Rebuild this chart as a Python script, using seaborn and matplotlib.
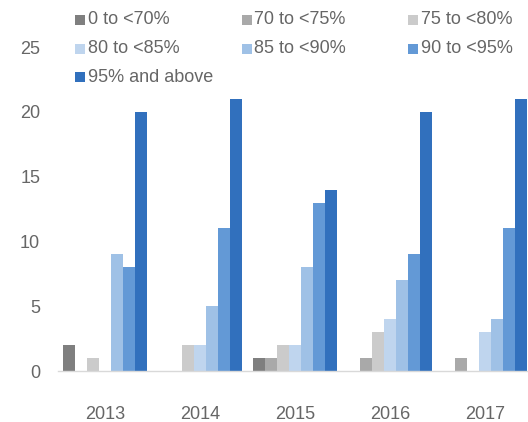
import matplotlib
matplotlib.use("Agg")
import matplotlib.pyplot as plt
import seaborn as sns
import pandas as pd
from matplotlib.patches import Rectangle

years = ["2013", "2014", "2015", "2016", "2017"]
bands = ["0 to <70%", "70 to <75%", "75 to <80%", "80 to <85%",
         "85 to <90%", "90 to <95%", "95% and above"]
band_0_70 = [2, 0, 1, 0, 0]
band_70_75 = [0, 0, 1, 1, 1]
band_75_80 = [1, 2, 2, 3, 0]
band_80_85 = [0, 2, 2, 4, 3]
band_85_90 = [9, 5, 8, 7, 4]
band_90_95 = [8, 11, 13, 9, 11]
band_95_up = [20, 21, 14, 20, 21]
yticks = [0, 5, 10, 15, 20, 25]

colors = ["#7f7f7f", "#a9a9a9", "#cbcbcb", "#bfd5ee",
          "#9fc1e6", "#6399d6", "#3170bd"]

series = [band_0_70, band_70_75, band_75_80, band_80_85,
          band_85_90, band_90_95, band_95_up]
rows = []
for b, vals in zip(bands, series):
    for y, v in zip(years, vals):
        rows.append({"year": y, "band": b, "value": v})
df = pd.DataFrame(rows)

sns.set_theme(style="white")
plt.rcParams["font.family"] = ["Liberation Sans", "DejaVu Sans"]

W, H = 528, 422
fig = plt.figure(figsize=(W / 100, H / 100), dpi=100)
ax = fig.add_axes([57.5 / W, 51 / H, 475 / W, 324 / H])

sns.barplot(data=df, x="year", y="value", hue="band", hue_order=bands,
            order=years, palette=colors, width=0.884, linewidth=0,
            saturation=1, legend=False, ax=ax)

ax.set_xlim(-0.5, 4.5)
ax.set_ylim(0, 25)
ax.set_yticks(yticks)
ax.set_yticklabels([str(t) for t in yticks])
ax.set_xlabel("")
ax.set_ylabel("")
for s in ["top", "right", "left"]:
    ax.spines[s].set_visible(False)
ax.spines["bottom"].set_color("#d9d9d9")
ax.spines["bottom"].set_linewidth(1.0)
ax.tick_params(axis="y", length=0, pad=12.5, labelsize=13, labelcolor="#666666")
ax.tick_params(axis="x", length=0, pad=25.5, labelsize=13, labelcolor="#666666")

# legend, row-major 3 columns
for i, (lab, c) in enumerate(zip(bands, colors)):
    r, col = divmod(i, 3)
    xp = 75 + col * 166.5
    yp = 20 + r * 28.7
    fig.patches.append(Rectangle((xp / W, 1 - (yp + 5) / H), 10 / W, 10 / H,
                                 transform=fig.transFigure, facecolor=c,
                                 edgecolor="none"))
    fig.text((xp + 13) / W, 1 - yp / H, lab, ha="left", va="center",
             fontsize=13, color="#666666")

fig.savefig("out.png", dpi=100)
